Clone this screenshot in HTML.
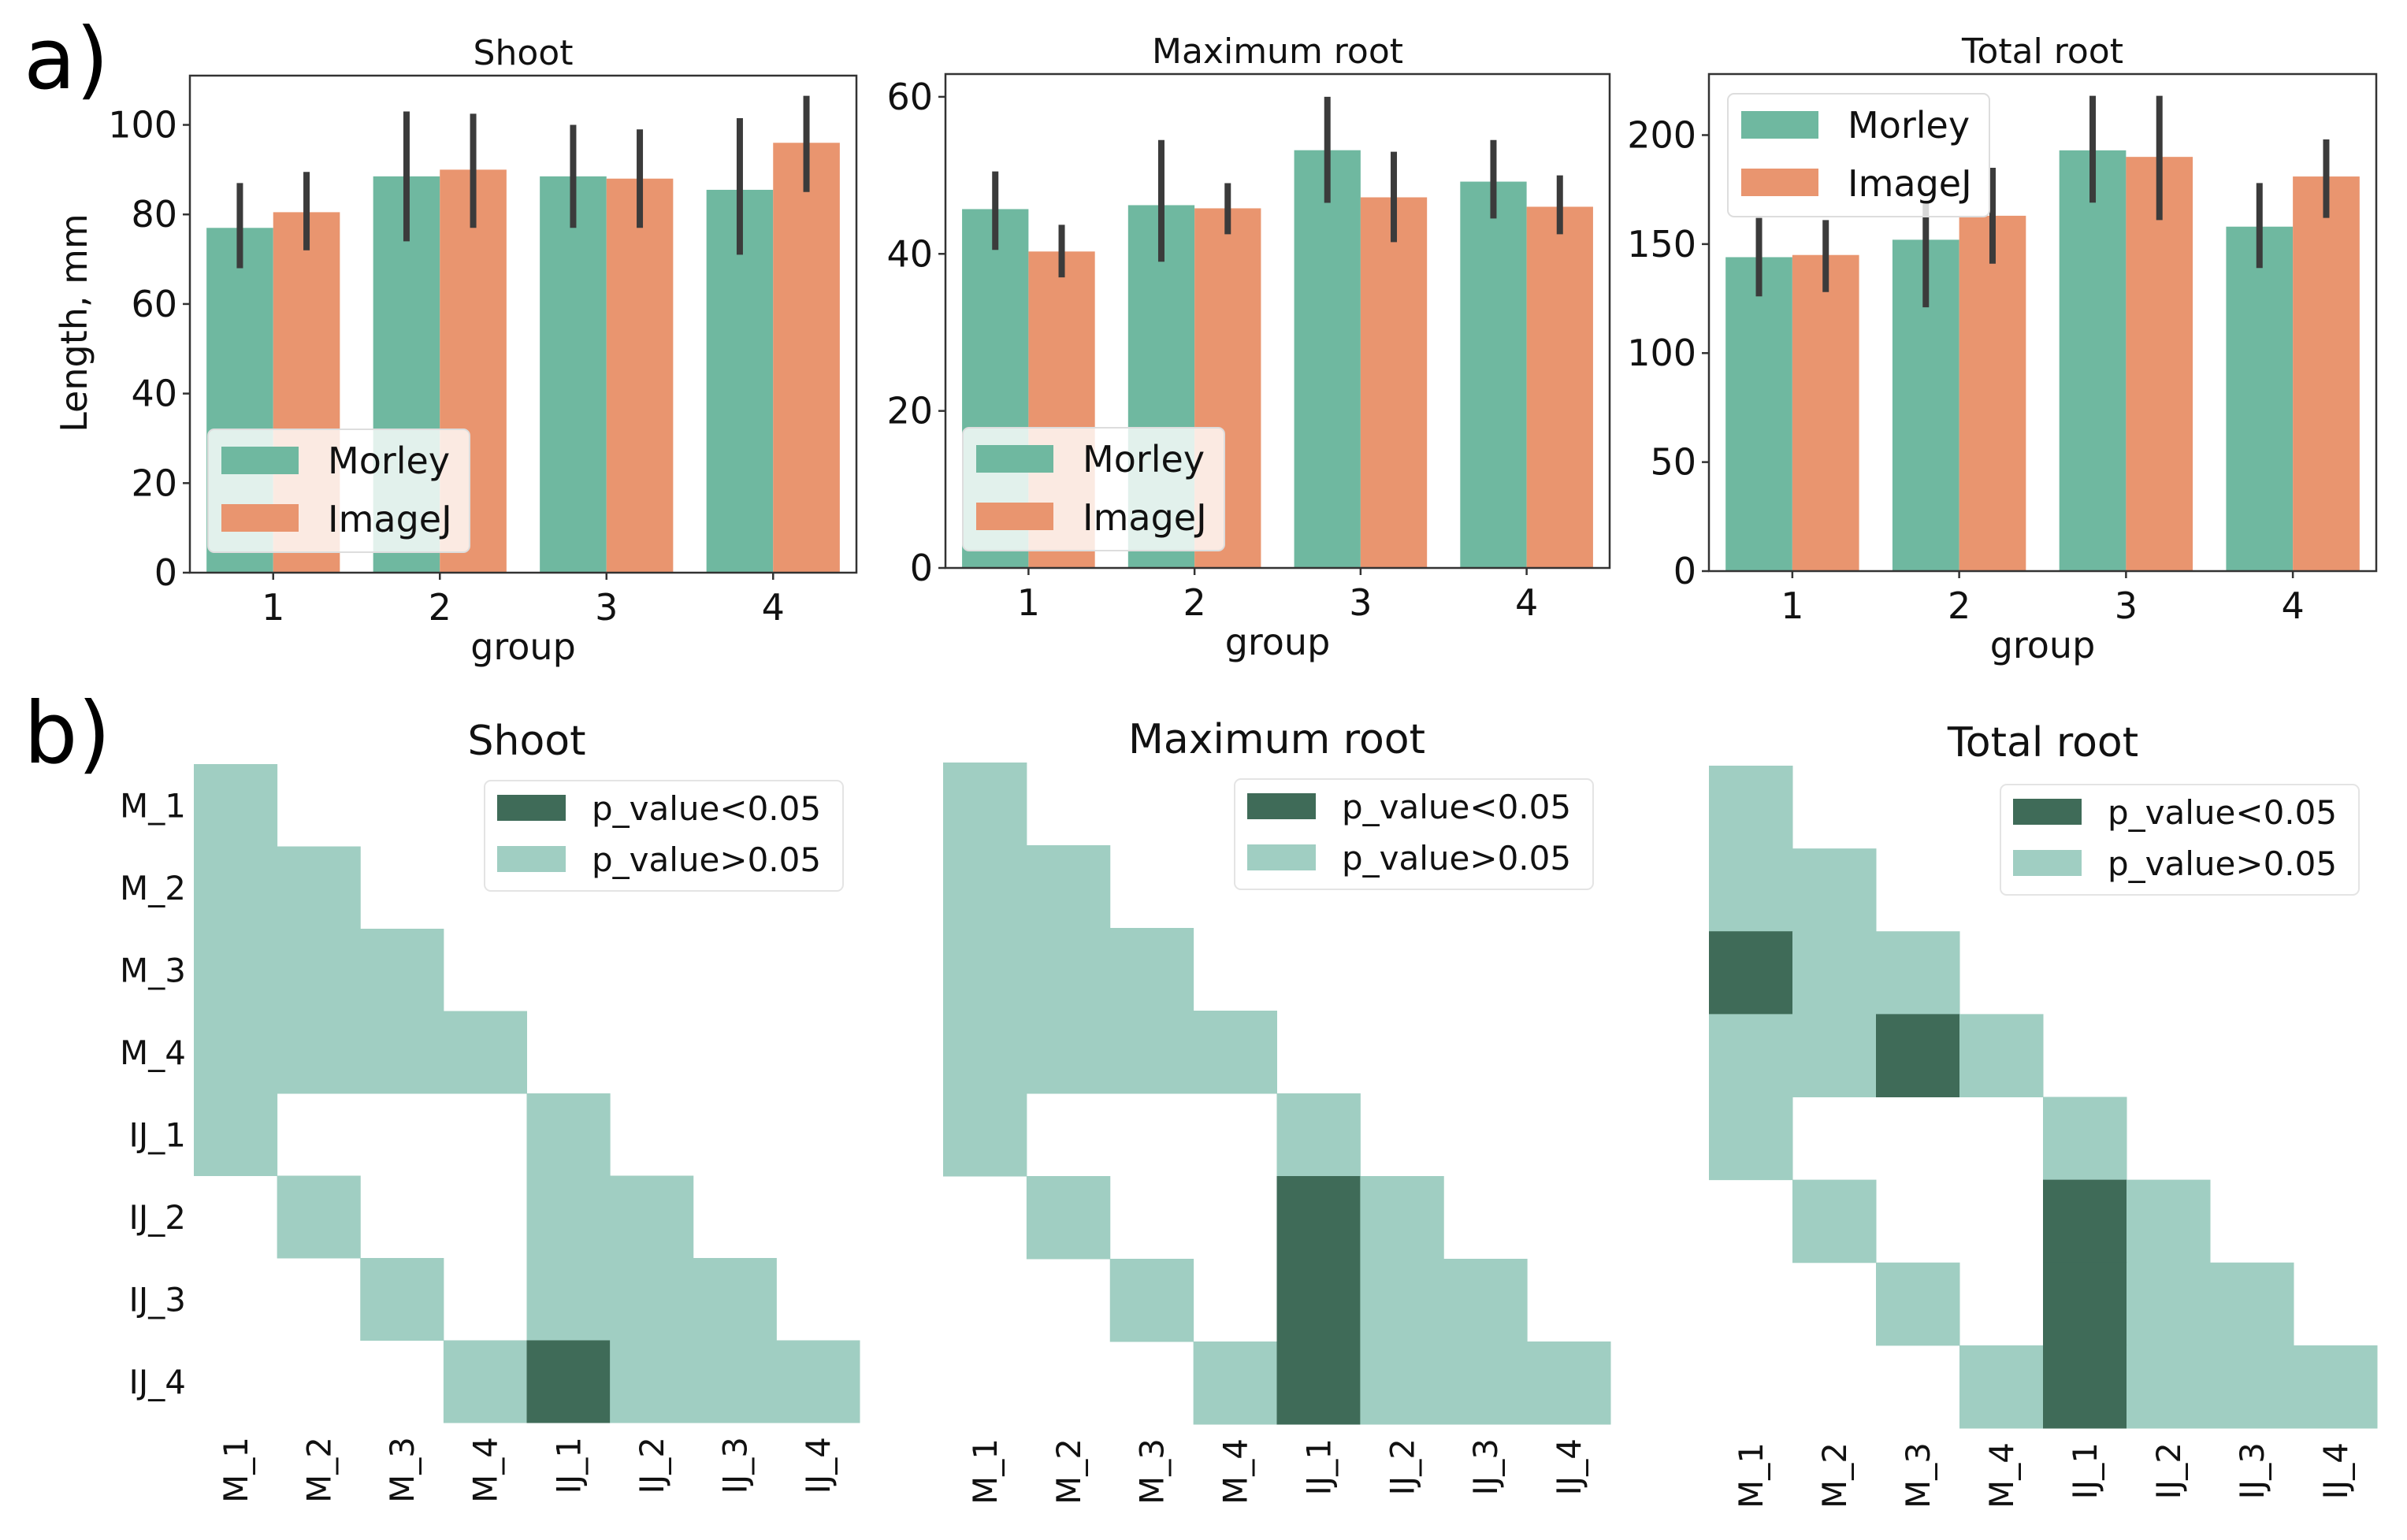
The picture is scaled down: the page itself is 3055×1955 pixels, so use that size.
<!DOCTYPE html>
<html><head><meta charset="utf-8"><style>
html,body{margin:0;padding:0;background:#fff;}
svg{display:block;font-family:"DejaVu Sans","Liberation Sans",sans-serif;}
</style></head><body>
<svg id="fig" width="3055" height="1955" viewBox="0 0 3055 1955" xmlns="http://www.w3.org/2000/svg">
<rect width="3055" height="1955" fill="#fff"/>
<text x="30" y="112" font-size="108">a)</text>
<text x="30" y="968" font-size="108">b)</text>
</svg>
<script>
// ---- bar chart data ----
const groups = ["1","2","3","4"];
const shootMorley = [77, 88.5, 88.5, 85.5];
const shootImageJ = [80.5, 90, 88, 96];
const shootMorleyLo = [68, 74, 77, 71];
const shootMorleyHi = [87, 103, 100, 101.5];
const shootImageJLo = [72, 77, 77, 85];
const shootImageJHi = [89.5, 102.5, 99, 106.5];
const shootTicks = [0,20,40,60,80,100];

const maxMorley = [45.7, 46.2, 53.2, 49.2];
const maxImageJ = [40.3, 45.8, 47.2, 46];
const maxMorleyLo = [40.5, 39, 46.5, 44.5];
const maxMorleyHi = [50.5, 54.5, 60, 54.5];
const maxImageJLo = [37, 42.5, 41.5, 42.5];
const maxImageJHi = [43.7, 49, 53, 50];
const maxTicks = [0,20,40,60];

const totMorley = [144, 152, 193, 158];
const totImageJ = [145, 163, 190, 181];
const totMorleyLo = [126, 121, 169, 139];
const totMorleyHi = [162, 170, 218, 178];
const totImageJLo = [128, 141, 161, 162];
const totImageJHi = [161, 185, 218, 198];
const totTicks = [0,50,100,150,200];

// ---- heatmap data (-1 = masked, 0 = p>0.05, 1 = p<0.05) ----
const hmLabels = ["M_1","M_2","M_3","M_4","IJ_1","IJ_2","IJ_3","IJ_4"];
const shootP = [
 [0,-1,-1,-1,-1,-1,-1,-1],
 [0,0,-1,-1,-1,-1,-1,-1],
 [0,0,0,-1,-1,-1,-1,-1],
 [0,0,0,0,-1,-1,-1,-1],
 [0,-1,-1,-1,0,-1,-1,-1],
 [-1,0,-1,-1,0,0,-1,-1],
 [-1,-1,0,-1,0,0,0,-1],
 [-1,-1,-1,0,1,0,0,0]];
const maxP = [
 [0,-1,-1,-1,-1,-1,-1,-1],
 [0,0,-1,-1,-1,-1,-1,-1],
 [0,0,0,-1,-1,-1,-1,-1],
 [0,0,0,0,-1,-1,-1,-1],
 [0,-1,-1,-1,0,-1,-1,-1],
 [-1,0,-1,-1,1,0,-1,-1],
 [-1,-1,0,-1,1,0,0,-1],
 [-1,-1,-1,0,1,0,0,0]];
const totP = [
 [0,-1,-1,-1,-1,-1,-1,-1],
 [0,0,-1,-1,-1,-1,-1,-1],
 [1,0,0,-1,-1,-1,-1,-1],
 [0,0,1,0,-1,-1,-1,-1],
 [0,-1,-1,-1,0,-1,-1,-1],
 [-1,0,-1,-1,1,0,-1,-1],
 [-1,-1,0,-1,1,0,0,-1],
 [-1,-1,-1,0,1,0,0,0]];

const svg = document.getElementById('fig');
const NS = "http://www.w3.org/2000/svg";
function mk(tag, attrs, parent){
  const e = document.createElementNS(NS, tag);
  for (const k in attrs) e.setAttribute(k, attrs[k]);
  (parent||svg).appendChild(e);
  return e;
}
const CM = "#6fb8a0", CI = "#e9956f", DARK = "#3f6b58", LIGHT = "#a0cec2";

function barChart(o){
  const g = mk('g', {});
  
  
  const L=o.l,R=o.r,T=o.t,B=o.b;
  const y = v => B - (v/o.ymax)*(B-T);
  const step = (R-L)/groups.length;
  const x = i => L + step*(i+0.5);
  const bw = step*0.4;
  const series = [[o.m,o.mlo,o.mhi,CM,'morley'],[o.i,o.ilo,o.ihi,CI,'imagej']];
  series.forEach((s,si)=>{
    s[0].forEach((v,i)=>{
      const bx = x(i) + (si===0?-bw:0);
      const r = mk('rect',{x:bx,y:y(v),width:bw,height:B-y(v),fill:s[3]},g);
      
      
    });
  });
  series.forEach((s,si)=>{
    s[0].forEach((v,i)=>{
      const cx = x(i) + (si===0?-bw/2:bw/2);
      const e = mk('line',{x1:cx,x2:cx,y1:y(s[1][i]),y2:y(s[2][i]),stroke:"#3b3b3b","stroke-width":8},g);
      
      
    });
  });
  const fr = mk('rect',{x:L,y:T,width:R-L,height:B-T,fill:"none",stroke:"#333","stroke-width":2.5},g);
  
  
  o.ticks.forEach(t=>{
    mk('line',{x1:L-9,x2:L,y1:y(t),y2:y(t),stroke:"#333","stroke-width":2.5},g);
    const tx = mk('text',{x:L-16,y:y(t)+16,"font-size":46,"text-anchor":"end",fill:"#111"},g);
    tx.textContent = t;
    
    
  });
  groups.forEach((gname,i)=>{
    mk('line',{x1:x(i),x2:x(i),y1:B,y2:B+9,stroke:"#333","stroke-width":2.5},g);
    const tx = mk('text',{x:x(i),y:B+60,"font-size":46,"text-anchor":"middle",fill:"#111"},g);
    tx.textContent = gname;
    
    
  });
  const xt = mk('text',{x:(L+R)/2,y:B+110,"font-size":46,"text-anchor":"middle",fill:"#111"},g);
  xt.textContent='group';
  
  
  const tt = mk('text',{x:(L+R)/2,y:T-14,"font-size":44,"text-anchor":"middle",fill:"#111"},g);
  tt.textContent=o.title;
  
  
  const lg = mk('g',{},g);
  
  
  mk('rect',{x:o.lx,y:o.ly,width:332,height:156,rx:8,fill:"#fff","fill-opacity":0.8,stroke:"#ddd","stroke-width":2},lg);
  mk('rect',{x:o.lx+17,y:o.ly+22,width:98,height:35,fill:CM},lg);
  mk('rect',{x:o.lx+17,y:o.ly+95,width:98,height:35,fill:CI},lg);
  const t1=mk('text',{x:o.lx+152,y:o.ly+56,"font-size":46,fill:"#111"},lg); t1.textContent='Morley';
  
  
  const t2=mk('text',{x:o.lx+152,y:o.ly+130,"font-size":46,fill:"#111"},lg); t2.textContent='ImageJ';
  
  
}

barChart({name:'shoot-bar-chart',title:'Shoot',l:241,r:1087,t:96,b:727,ymax:111,ticks:shootTicks,
  m:shootMorley,i:shootImageJ,mlo:shootMorleyLo,mhi:shootMorleyHi,ilo:shootImageJLo,ihi:shootImageJHi,lx:264,ly:545});
barChart({name:'max-root-bar-chart',title:'Maximum root',l:1200,r:2043,t:94,b:721,ymax:62.9,ticks:maxTicks,
  m:maxMorley,i:maxImageJ,mlo:maxMorleyLo,mhi:maxMorleyHi,ilo:maxImageJLo,ihi:maxImageJHi,lx:1222,ly:543});
barChart({name:'total-root-bar-chart',title:'Total root',l:2169,r:3016,t:94,b:725,ymax:228,ticks:totTicks,
  m:totMorley,i:totImageJ,mlo:totMorleyLo,mhi:totMorleyHi,ilo:totImageJLo,ihi:totImageJHi,lx:2193,ly:119});

const yl = mk('text',{x:0,y:0,"font-size":46,"text-anchor":"middle",fill:"#111",transform:"translate(110,410) rotate(-90)"});
yl.textContent='Length, mm';



function heatmap(o){
  const g = mk('g',{});
  
  
  const n = hmLabels.length;
  const cw=(o.r-o.l)/n, ch=(o.b-o.t)/n;
  o.data.forEach((row,ri)=>{
    row.forEach((v,ci)=>{
      if (v<0) return;
      const c = mk('rect',{x:o.l+ci*cw,y:o.t+ri*ch,width:cw+0.5,height:ch+0.5,fill:v===1?DARK:LIGHT},g);
      
      
    });
  });
  if (o.ylab){
    hmLabels.forEach((lab,i)=>{
      const t=mk('text',{x:o.l-10,y:o.t+(i+0.5)*ch+15,"font-size":42,"text-anchor":"end",fill:"#111"},g);
      t.textContent=lab;
      
      
    });
  }
  hmLabels.forEach((lab,i)=>{
    const cx=o.l+(i+0.5)*cw;
    const t=mk('text',{x:0,y:0,"font-size":42,"text-anchor":"end",fill:"#111",transform:`translate(${cx+15},${o.b+18}) rotate(-90)`},g);
    t.textContent=lab;
    
    
  });
  const tt=mk('text',{x:(o.l+o.r)/2,y:o.t-12,"font-size":52,"text-anchor":"middle",fill:"#111"},g);
  tt.textContent=o.title;
  
  
  const lg=mk('g',{},g);
  
  
  mk('rect',{x:o.lx,y:o.ly,width:455,height:140,rx:8,fill:"#fff","fill-opacity":0.85,stroke:"#e4e4e4","stroke-width":2},lg);
  mk('rect',{x:o.lx+16,y:o.ly+18,width:87,height:33,fill:DARK},lg);
  mk('rect',{x:o.lx+16,y:o.ly+83,width:87,height:33,fill:LIGHT},lg);
  const a=mk('text',{x:o.lx+136,y:o.ly+50,"font-size":42,fill:"#111"},lg); a.textContent='p_value<0.05';
  
  
  const b=mk('text',{x:o.lx+136,y:o.ly+115,"font-size":42,fill:"#111"},lg); b.textContent='p_value>0.05';
  
  
}
heatmap({name:'shoot-heatmap',title:'Shoot',data:shootP,l:246,r:1091,t:970,b:1806,ylab:true,lx:615,ly:991});
heatmap({name:'max-root-heatmap',title:'Maximum root',data:maxP,l:1197,r:2044,t:968,b:1808,ylab:false,lx:1567,ly:989});
heatmap({name:'total-root-heatmap',title:'Total root',data:totP,l:2169,r:3017,t:972,b:1813,ylab:false,lx:2539,ly:996});
</script>
</body></html>
